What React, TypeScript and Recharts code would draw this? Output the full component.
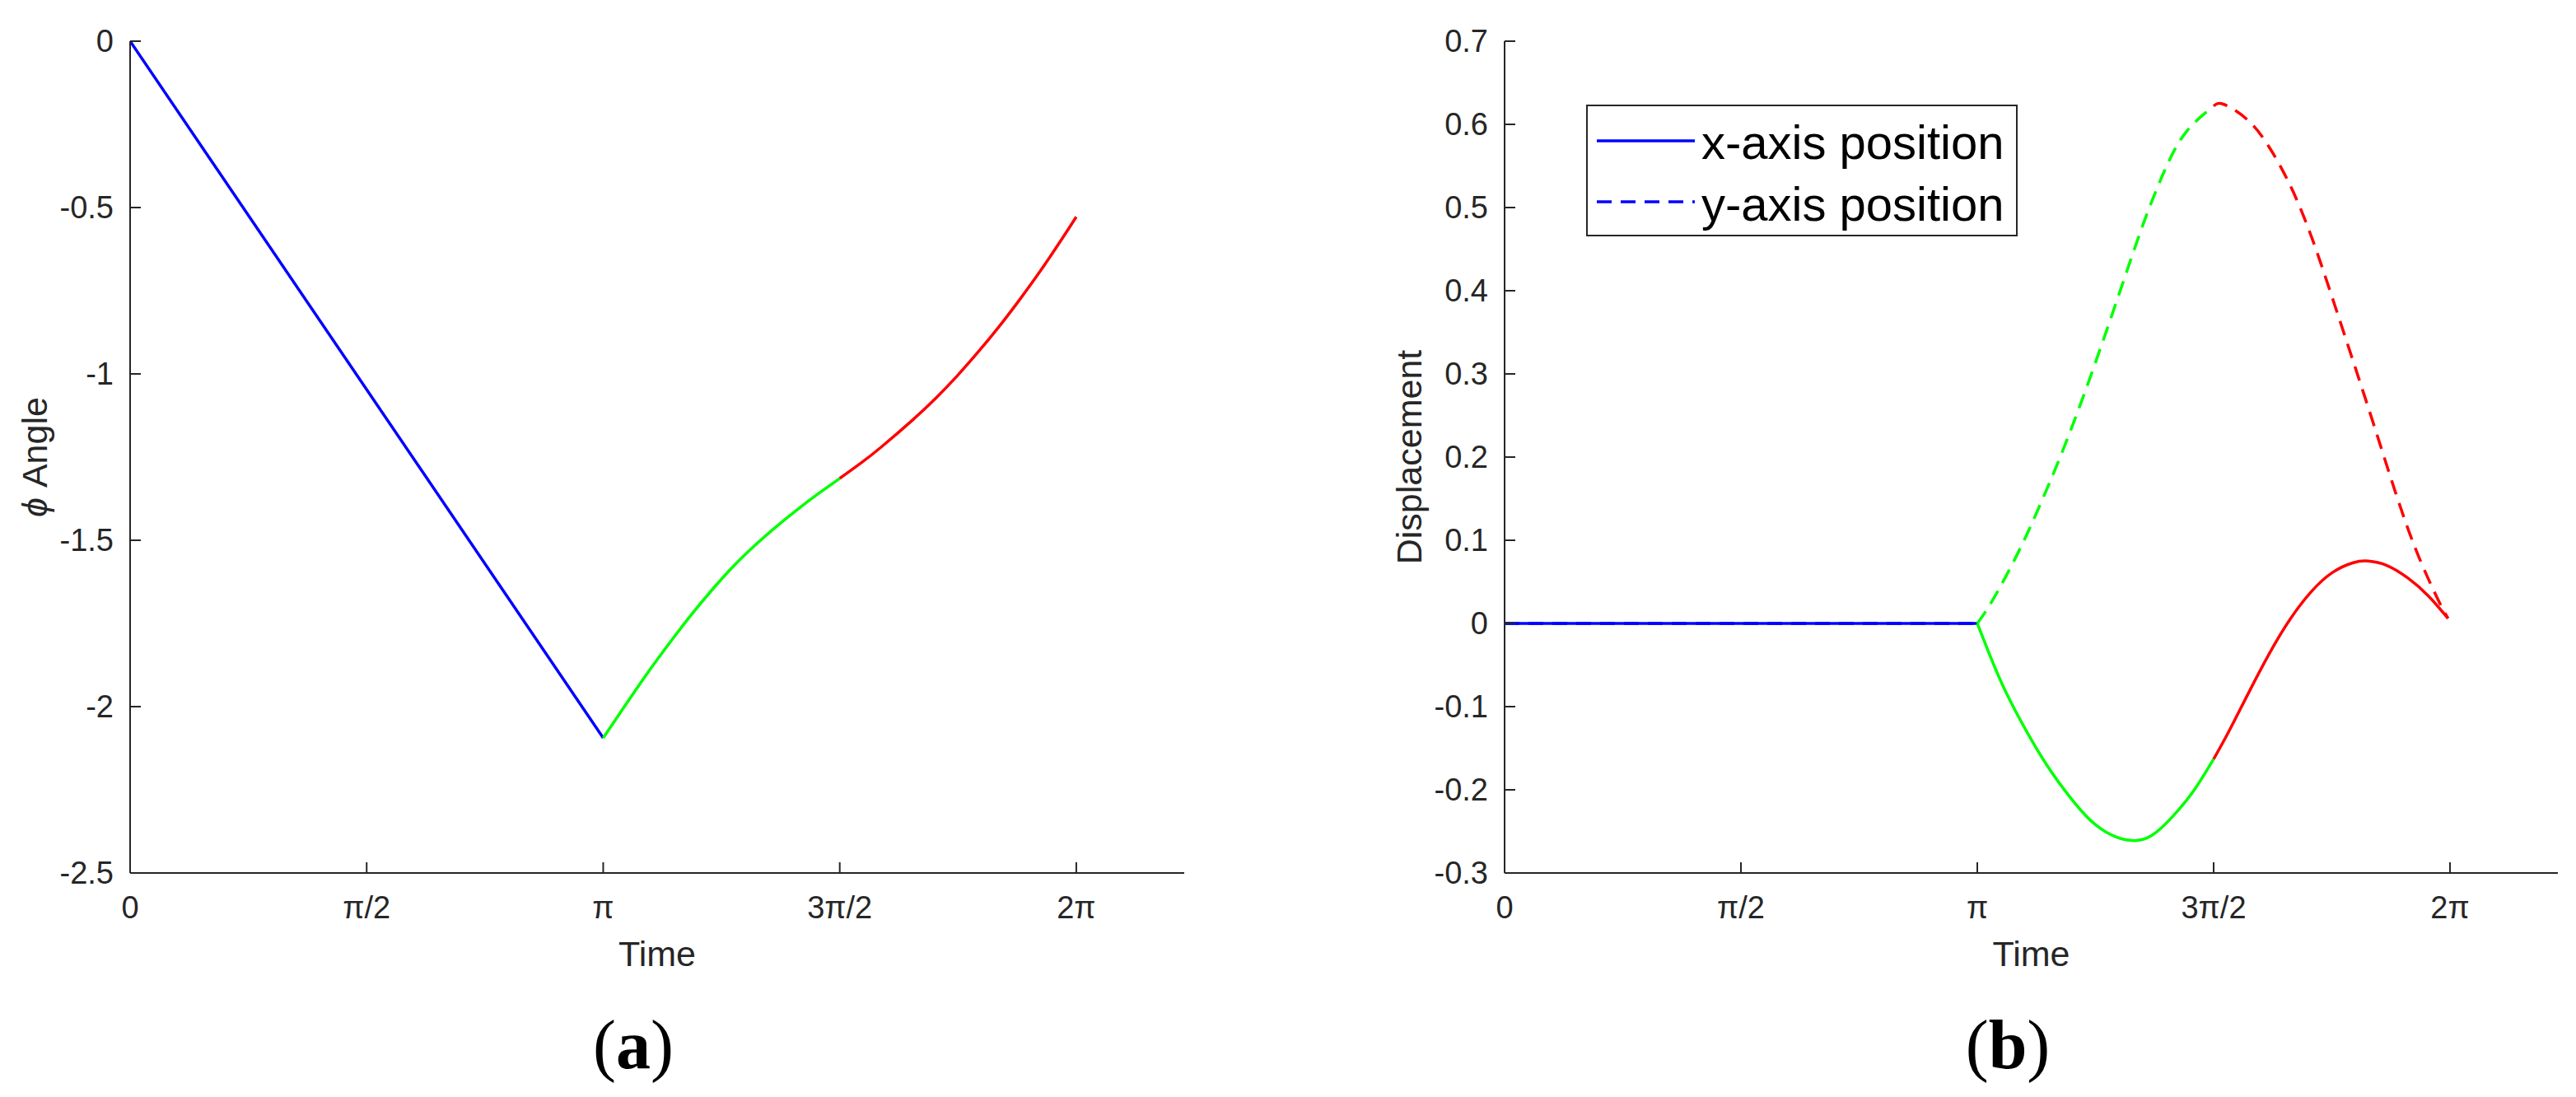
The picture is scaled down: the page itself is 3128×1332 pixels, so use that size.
import React from "react";
import { LineChart, Line, XAxis, YAxis, Legend } from "recharts";

const FONT = '"Liberation Sans", Arial, Helvetica, sans-serif';
const AXIS = "#262626";
const BLUE = "#0000ff";
const GREEN = "#00ff00";
const RED = "#ff0000";
const DASH = "18 11";

// time axis (radians)
const timeTicks = [0, 1.5708, 3.1416, 4.7124, 6.2832];
const timeTickLabels = ["0", "π/2", "π", "3π/2", "2π"];

// (a) phi angle
const angleTicks = [-2.5, -2, -1.5, -1, -0.5, 0];
const angleBlueT = [0, 3.1416];
const angleBlueV = [0, -2.094];
const angleGreenT = [3.1416, 3.26, 3.4, 3.54, 3.73, 3.87, 4.0, 4.15, 4.28, 4.43, 4.57, 4.7124];
const angleGreenV = [-2.094, -2.015, -1.922, -1.834, -1.722, -1.646, -1.581, -1.515, -1.463, -1.408, -1.36, -1.314];
const angleRedT = [4.7124, 4.85, 4.99, 5.2, 5.35, 5.49, 5.63, 5.77, 5.91, 6.05, 6.19, 6.2832];
const angleRedV = [-1.314, -1.269, -1.219, -1.137, -1.073, -1.007, -0.935, -0.858, -0.775, -0.687, -0.593, -0.528];

// (b) displacement
const dispTicks = [-0.3, -0.2, -0.1, 0, 0.1, 0.2, 0.3, 0.4, 0.5, 0.6, 0.7];
const legendLabels = ["x-axis position", "y-axis position"];
const xBlueT = [0, 3.1416];
const xBlueV = [0, 0];
const xGreenT = [3.1416, 3.22, 3.33, 3.47, 3.61, 3.75, 3.89, 4.03, 4.17, 4.3, 4.44, 4.58, 4.7124];
const xGreenV = [0, -0.036, -0.082, -0.13, -0.172, -0.207, -0.236, -0.254, -0.261, -0.255, -0.232, -0.201, -0.163];
const xRedT = [4.7124, 4.81, 4.94, 5.08, 5.22, 5.36, 5.5, 5.64, 5.74, 5.86, 6.0, 6.14, 6.27];
const xRedV = [-0.163, -0.131, -0.085, -0.037, 0.005, 0.038, 0.061, 0.073, 0.075, 0.07, 0.055, 0.033, 0.006];
const yBlueT = [0, 3.1416];
const yBlueV = [0, 0];
const yGreenT = [3.1416, 3.25, 3.415, 3.55, 3.69, 3.83, 3.97, 4.11, 4.25, 4.39, 4.53, 4.7124];
const yGreenV = [0, 0.03, 0.086, 0.139, 0.199, 0.265, 0.336, 0.41, 0.483, 0.546, 0.591, 0.622];
const yRedT = [4.7124, 4.78, 4.94, 5.08, 5.22, 5.36, 5.5, 5.64, 5.78, 5.92, 6.06, 6.2, 6.27];
const yRedV = [0.622, 0.624, 0.605, 0.573, 0.527, 0.466, 0.392, 0.315, 0.237, 0.158, 0.087, 0.03, 0.006];

type Series = { key: string; t: number[]; v: number[] };

function merge(series: Series[]) {
  const rows = new Map<number, any>();
  for (const s of series) {
    s.t.forEach((t, i) => {
      const row = rows.get(t) ?? { t };
      row[s.key] = s.v[i];
      rows.set(t, row);
    });
  }
  return [...rows.values()].sort((a, b) => a.t - b.t);
}

const angleData = merge([
  { key: "blue", t: angleBlueT, v: angleBlueV },
  { key: "green", t: angleGreenT, v: angleGreenV },
  { key: "red", t: angleRedT, v: angleRedV },
]);

const dispData = merge([
  { key: "xBlue", t: xBlueT, v: xBlueV },
  { key: "xGreen", t: xGreenT, v: xGreenV },
  { key: "xRed", t: xRedT, v: xRedV },
  { key: "yBlue", t: yBlueT, v: yBlueV },
  { key: "yGreen", t: yGreenT, v: yGreenV },
  { key: "yRed", t: yRedT, v: yRedV },
]);

const H = 1332;
const PLOT_TOP = 50;
const PLOT_BOTTOM = 1060;
const X_AXIS_H = 80;
const Y_AXIS_W = 120;

const lineStyle = { stroke: AXIS, strokeWidth: 2 };
const tickFont = { fontSize: 38, fill: AXIS, fontFamily: FONT };

function LegendBox() {
  return (
    <svg width={524} height={160} style={{ display: "block" }}>
      <rect x={1} y={1} width={522} height={158} fill="#fff" stroke={AXIS} strokeWidth={2} />
      <line x1={13} x2={132} y1={44} y2={44} stroke={BLUE} strokeWidth={3.5} />
      <text x={140} y={66} fontSize={58} fontFamily={FONT} fill="#000">
        {legendLabels[0]}
      </text>
      <line x1={13} x2={132} y1={118} y2={118} stroke={BLUE} strokeWidth={3.5} strokeDasharray={DASH} />
      <text x={140} y={141} fontSize={58} fontFamily={FONT} fill="#000">
        {legendLabels[1]}
      </text>
    </svg>
  );
}

function Panel({
  left,
  width,
  plotLeft,
  plotRight,
  data,
  yDomain,
  yTicks,
  yTitle,
  children,
  legend,
}: any) {
  const margin = {
    top: PLOT_TOP,
    bottom: H - PLOT_BOTTOM - X_AXIS_H,
    left: plotLeft - left - Y_AXIS_W,
    right: left + width - plotRight,
  };
  return (
    <div style={{ position: "absolute", left, top: 0 }}>
      <LineChart width={width} height={H} data={data} margin={margin} style={{ fontFamily: FONT }}>
        <XAxis
          xAxisId="b"
          dataKey="t"
          type="number"
          domain={[0, 7]}
          ticks={timeTicks}
          interval={0}
          allowDataOverflow
          tickFormatter={(v: number) => timeTickLabels[timeTicks.indexOf(v)] ?? ""}
          height={X_AXIS_H}
          tickSize={-13}
          tickMargin={41}
          axisLine={lineStyle}
          tickLine={lineStyle}
          tick={tickFont}
          label={(p: any) => {
            const vb = p.viewBox;
            return (
              <text x={vb.x + vb.width / 2} y={vb.y + 113} textAnchor="middle" fontSize={43} fill={AXIS} fontFamily={FONT}>
                Time
              </text>
            );
          }}
        />
        <XAxis
          xAxisId="top"
          orientation="top"
          dataKey="t"
          type="number"
          domain={[0, 7]}
          ticks={timeTicks}
          interval={0}
          allowDataOverflow
          tickFormatter={() => ""}
          height={0}
          tickSize={-13}
          axisLine={lineStyle}
          tickLine={lineStyle}
          tick={tickFont}
        />
        <YAxis
          yAxisId="l"
          type="number"
          domain={yDomain}
          ticks={yTicks}
          interval={0}
          allowDataOverflow
          width={Y_AXIS_W}
          tickSize={-13}
          tickMargin={33}
          axisLine={lineStyle}
          tickLine={lineStyle}
          tick={tickFont}
          label={(p: any) => {
            const vb = p.viewBox;
            const x = vb.x + vb.width - 101;
            const y = vb.y + vb.height / 2;
            return (
              <text x={x} y={y} transform={`rotate(-90 ${x} ${y})`} textAnchor="middle" fontSize={43} fill={AXIS} fontFamily={FONT}>
                {yTitle}
              </text>
            );
          }}
        />
        <YAxis
          yAxisId="r"
          orientation="right"
          type="number"
          domain={yDomain}
          ticks={yTicks}
          interval={0}
          allowDataOverflow
          width={0}
          tickSize={-13}
          tickFormatter={() => ""}
          axisLine={lineStyle}
          tickLine={lineStyle}
          tick={tickFont}
        />
        {children}
        {legend}
      </LineChart>
    </div>
  );
}

function seg(key: string, color: string, dashed = false, type: any = "natural") {
  return (
    <Line
      key={key}
      xAxisId="b"
      yAxisId="l"
      dataKey={key}
      type={type}
      stroke={color}
      strokeWidth={3.5}
      strokeDasharray={dashed ? DASH : undefined}
      dot={false}
      activeDot={false}
      connectNulls
      isAnimationActive={false}
    />
  );
}

function Caption({ cx, letter }: { cx: number; letter: string }) {
  return (
    <div
      style={{
        position: "absolute",
        left: cx - 150,
        width: 300,
        top: 1227,
        textAlign: "center",
        fontFamily: '"Liberation Serif", "Times New Roman", serif',
        fontSize: 84,
        lineHeight: "84px",
        color: "#000",
      }}
    >
      (<b>{letter}</b>)
    </div>
  );
}

export default function App() {
  return (
    <div style={{ position: "absolute", left: 0, top: 0, width: 3128, height: H, background: "#fff", overflow: "hidden" }}>
      <Panel
        left={0}
        width={1564}
        plotLeft={158}
        plotRight={1438}
        data={angleData}
        yDomain={[-2.5, 0]}
        yTicks={angleTicks}
        yTitle={
          <>
            <tspan fontStyle="italic">ϕ</tspan> Angle
          </>
        }
      >
        {seg("blue", BLUE, false, "linear")}
        {seg("green", GREEN)}
        {seg("red", RED)}
      </Panel>
      <Panel
        left={1564}
        width={1564}
        plotLeft={1827}
        plotRight={3106}
        data={dispData}
        yDomain={[-0.3, 0.7]}
        yTicks={dispTicks}
        yTitle="Displacement"
        legend={
          <Legend
            layout="horizontal"
            verticalAlign="middle"
            align="center"
            content={() => <LegendBox />}
            wrapperStyle={{ position: "absolute", left: 362, top: 127, width: 524, height: 160 }}
          />
        }
      >
        {seg("yBlue", BLUE, true, "linear")}
        {seg("xBlue", BLUE, false, "linear")}
        {seg("yGreen", GREEN, true)}
        {seg("yRed", RED, true)}
        {seg("xGreen", GREEN)}
        {seg("xRed", RED)}
      </Panel>
      <Caption cx={769} letter="a" />
      <Caption cx={2438} letter="b" />
    </div>
  );
}
